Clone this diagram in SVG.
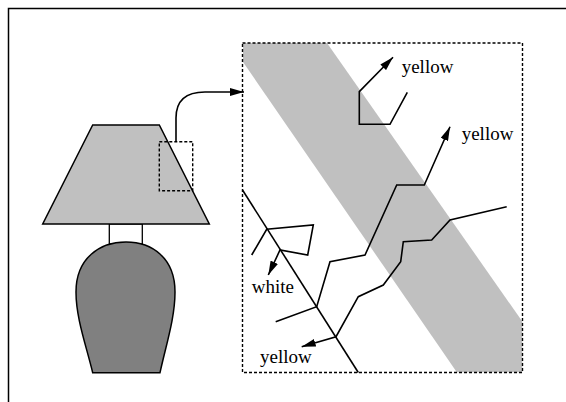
<svg xmlns="http://www.w3.org/2000/svg" width="566" height="402" viewBox="0 0 566 402">
  <style>
    .ln { fill: none; stroke: #000; stroke-width: 1.6; stroke-linejoin: miter; }
    .dash { fill: none; stroke: #000; stroke-width: 1.4; stroke-dasharray: 3 2; }
    .lbl { font-family: "Liberation Serif", "Times New Roman", serif; font-size: 19px; fill: #000; }
  </style>
  <defs>
    <marker id="arr" viewBox="0 0 14 8" refX="14" refY="4" markerWidth="14" markerHeight="8" markerUnits="userSpaceOnUse" orient="auto">
      <path d="M0,0 L14,4 L0,8 Z" fill="#000"/>
    </marker>
    <clipPath id="zoomClip">
      <rect x="242.5" y="43" width="280" height="329.5"/>
    </clipPath>
  </defs>

  <rect width="566" height="402" fill="#fff"/>

  <!-- frame edges -->
  <path d="M8.5,402 L8.5,8.5 L566,8.5" fill="none" stroke="#000" stroke-width="1.5"/>

  <!-- lamp -->
  <g id="lamp">
    <rect x="109.3" y="224" width="33" height="20" fill="#fff" stroke="#000" stroke-width="1.3"/>
    <path d="M92.7,372.7 L160,372.7 C166,345 175,318 175,292 C175,258 152,242 126,242 C100,242 76,258 76,292 C76,318 86,345 92.7,372.7 Z" fill="#808080" stroke="#000" stroke-width="1.5"/>
    <path d="M92.7,125 L159.3,125 L209.3,224 L42.7,224 Z" fill="#c0c0c0" stroke="#000" stroke-width="1.5"/>
    <rect id="detail" x="159.3" y="141.7" width="33.4" height="49" class="dash"/>
  </g>

  <!-- magnified detail -->
  <g id="closeup">
    <path d="M243,43 L327,43 L522.5,321.7 L522.5,372.5 L457,372.5 L243,62 Z" fill="#c0c0c0" clip-path="url(#zoomClip)"/>
    <rect x="242.5" y="43" width="280" height="329.5" class="dash"/>
    <line x1="242.5" y1="190" x2="358.3" y2="372.5" class="ln"/>
  </g>

  <!-- connectors -->
  <g id="connectors">
    <path d="M176,141.7 L176,118 C176,100 186,92 205,92 L244,92" class="ln" marker-end="url(#arr)"/>
    <path d="M407.3,92.3 L390,124.3 L359.3,124.3 L359.3,91.7 L393,57.3" class="ln" marker-end="url(#arr)"/>
    <path d="M275.7,321.7 L316.7,306.7 L330,261.7 L365,255 L396.7,185 L424.3,185 L450,126.7" class="ln" marker-end="url(#arr)"/>
    <path d="M251.7,255 L266.7,229.3 L313.3,225 L307.7,255 L280,250 L268.3,275" class="ln" marker-end="url(#arr)"/>
    <path d="M506.7,206.7 L450,220 L431.7,240 L403.3,241.7 L400.7,261.7 L383.3,285 L358.3,296.7 L336,336.7 L301.7,346.7" class="ln" marker-end="url(#arr)"/>
  </g>

  <g id="labels">
    <text x="401.7" y="72.7" class="lbl">yellow</text>
    <text x="461.7" y="140" class="lbl">yellow</text>
    <text x="251.7" y="292.7" class="lbl">white</text>
    <text x="260" y="363.3" class="lbl">yellow</text>
  </g>
</svg>
